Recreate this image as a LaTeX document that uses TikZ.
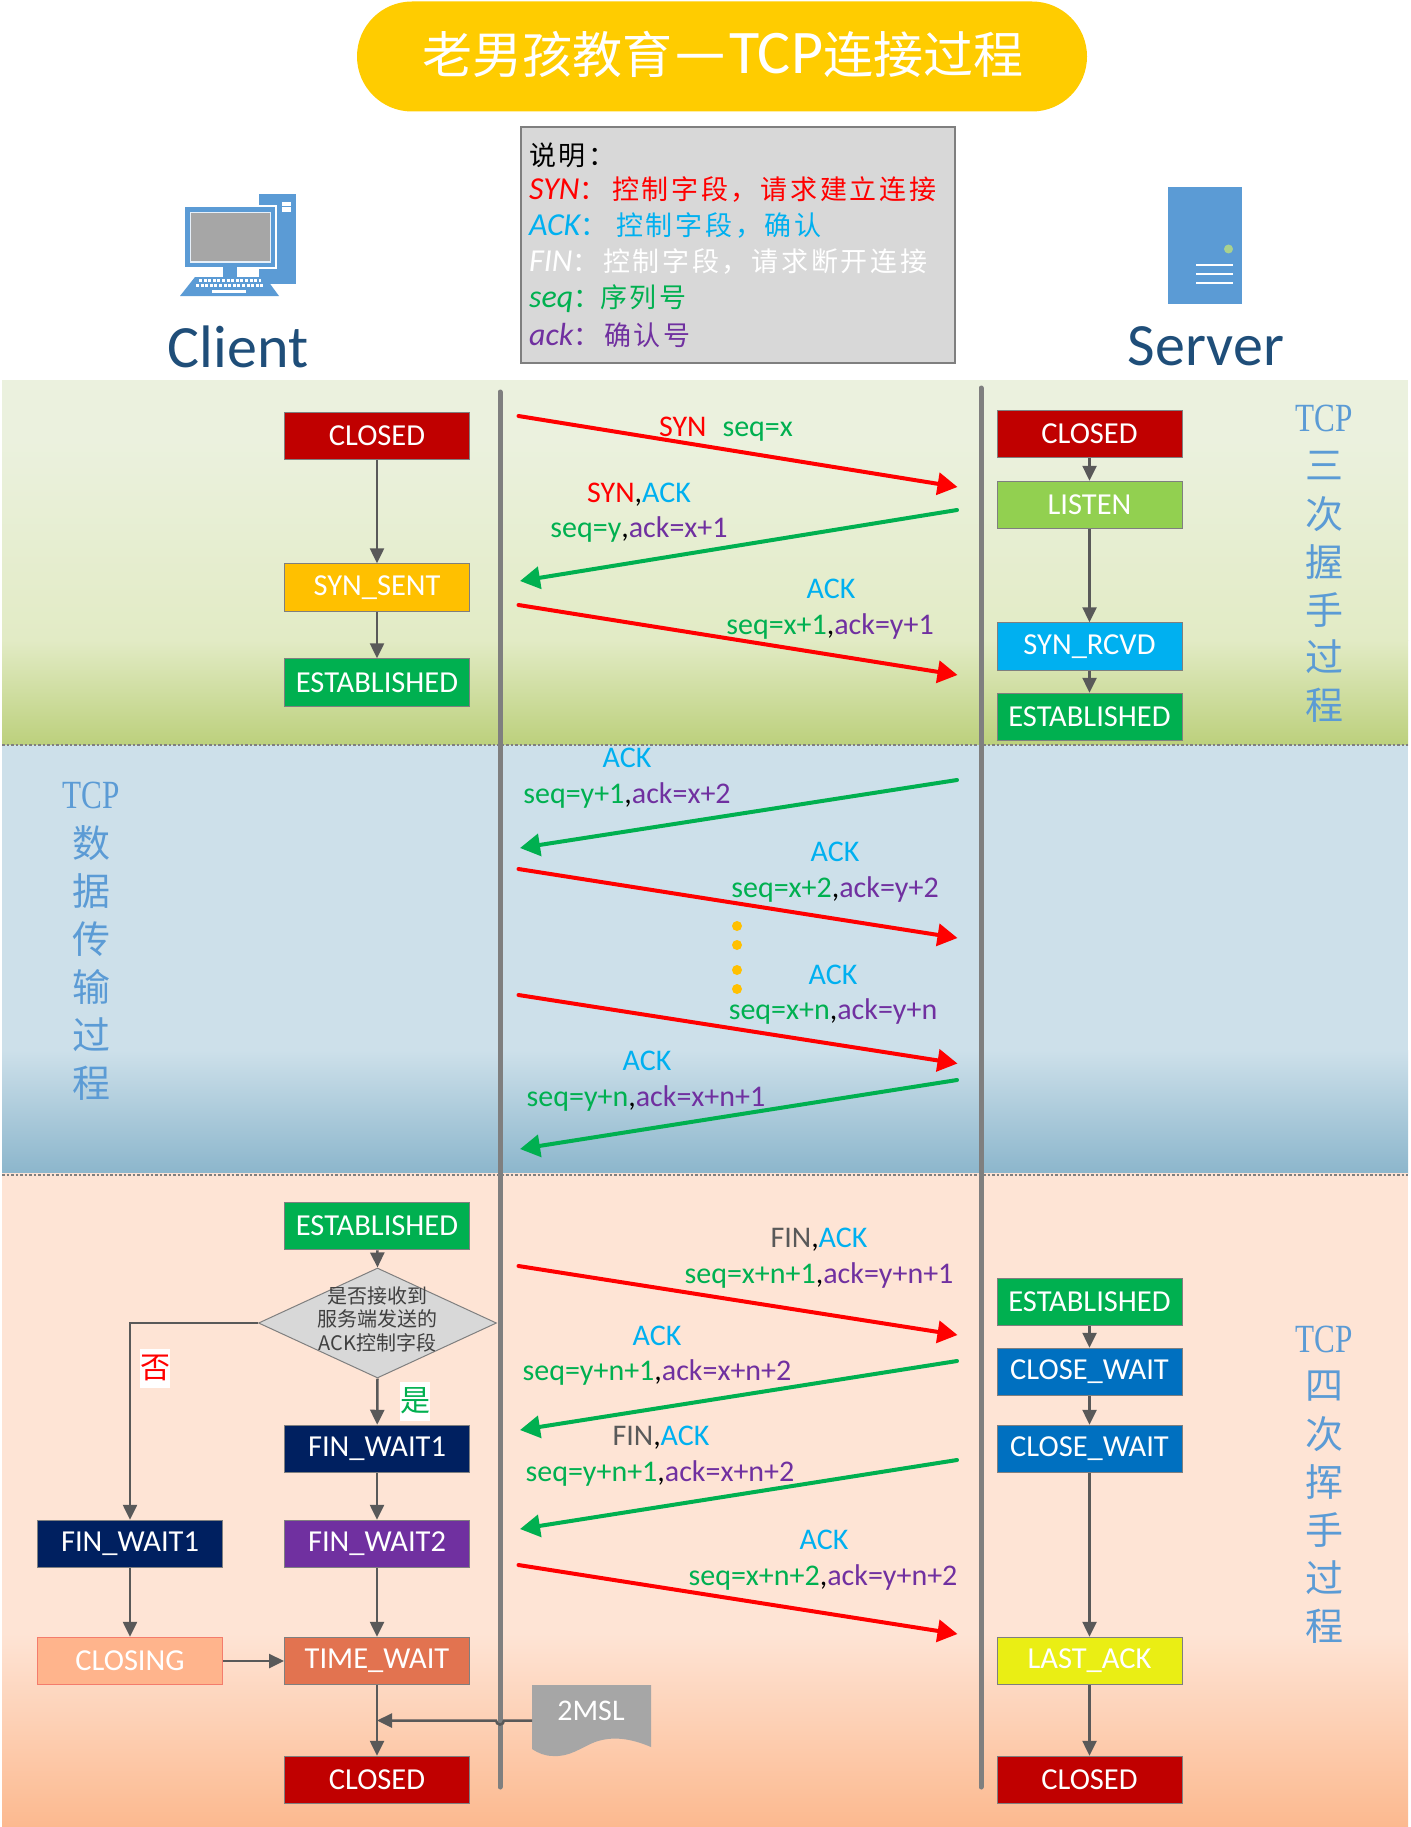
\documentclass[tikz,border=0pt]{standalone}
\usepackage{fontspec}
\usepackage{graphicx}
\usetikzlibrary{arrows.meta,shapes.geometric,calc}
\setmainfont{Carlito}
\newfontfamily\cjk{Noto Sans CJK SC}
\newfontfamily\cjkls[LetterSpace=10]{Noto Sans CJK SC}
\newfontfamily\tms{Liberation Serif}
\newcommand{\fs}[1]{\fontsize{#1}{#1}\selectfont}
\definecolor{cred}{HTML}{FF0000}
\definecolor{cseq}{HTML}{00B050}
\definecolor{cack}{HTML}{7030A0}
\definecolor{cAK}{HTML}{00B0F0}
\definecolor{cfin}{HTML}{595959}
\definecolor{cside}{HTML}{5B9BD5}
\definecolor{cname}{HTML}{1F4E79}
\definecolor{cline}{HTML}{595959}
\definecolor{clife}{HTML}{7F7F7F}
\definecolor{ctitle}{HTML}{FFCC00}
\definecolor{bclosed}{HTML}{C00000}
\definecolor{bsent}{HTML}{FFC000}
\definecolor{best}{HTML}{00B050}
\definecolor{blisten}{HTML}{92D050}
\definecolor{brcvd}{HTML}{00B0F0}
\definecolor{bcw}{HTML}{0070C0}
\definecolor{blast}{HTML}{EAEE14}
\definecolor{bfw1}{HTML}{002060}
\definecolor{bfw2}{HTML}{7030A0}
\definecolor{btw}{HTML}{E27350}
\definecolor{bcl}{HTML}{FFB48C}
\definecolor{bclb}{HTML}{F47C6C}
\definecolor{gra}{HTML}{EBF1DE}
\definecolor{grb}{HTML}{E2EBC5}
\definecolor{grc}{HTML}{BCD07C}
\definecolor{bla}{HTML}{CDE0EA}
\definecolor{blb}{HTML}{8CB6CC}
\definecolor{ora}{HTML}{FEE4D5}
\definecolor{orb}{HTML}{FCB98F}
\definecolor{gfill}{HTML}{D8D8D8}
\definecolor{gdoc}{HTML}{A6A6A6}
\definecolor{gtext}{HTML}{404040}
\definecolor{gled}{HTML}{A9D18E}
\newcommand{\Sq}[1]{\textcolor{cseq}{#1}}
\newcommand{\Ak}[1]{\textcolor{cack}{#1}}
\newcommand{\AK}{\textcolor{cAK}{ACK}}
\newcommand{\SY}{\textcolor{cred}{SYN}}
\newcommand{\FI}{\textcolor{cfin}{FIN}}
\newcommand{\lgname}[2]{\makebox[#1pt][l]{\fs{32}\itshape #2\fs{27}\cjk：}}
\tikzset{
  statebox/.style={draw=clife,line width=1pt,minimum width=185pt,minimum height=47.5pt,inner sep=0pt,text=white,font=\fs{30.5}},
  conn/.style={draw=cline,line width=2.5pt,-{Triangle[length=15pt,width=14pt]}},
  redmsg/.style={draw=red,line width=4pt,line cap=round,-{Triangle[length=20pt,width=22pt]}},
  greenmsg/.style={draw=cseq,line width=4pt,line cap=round,-{Triangle[length=20pt,width=22pt]}},
  lab/.style={inner sep=0pt,font=\fs{30}},
  side/.style={inner sep=0pt,text=cside,font=\fs{38}\cjk},
  legend/.style={inner sep=0pt,anchor=west,font=\fs{27}},
  lifeline/.style={draw=clife,line width=5pt,line cap=round},
  divider/.style={draw=clife,line width=2.5pt,dash pattern=on 2.5pt off 2pt},
}
\begin{document}
\begin{tikzpicture}[x=1pt,y=-1pt]
\useasboundingbox (0,0) rectangle (1410,1827);
\fill[white] (0,0) rectangle (1410,1827);
% panels
\fill[gra] (2,380) rectangle (1408,440);
\shade[top color=gra,bottom color=grb] (2,440) rectangle (1408,640);
\shade[top color=grb,bottom color=grc] (2,640) rectangle (1408,745);
\fill[bla] (2,745) rectangle (1408,1050);
\shade[top color=bla,bottom color=blb] (2,1050) rectangle (1408,1173);
\fill[ora] (2,1173) rectangle (1408,1633);
\shade[top color=ora,bottom color=orb] (2,1633) rectangle (1408,1827);
\draw[divider] (2,745) -- (1408,745);
\draw[divider] (2,1175) -- (1408,1175);
% lifelines
\coordinate (lla) at (500,392); \coordinate (llb) at (500,1787);
\coordinate (lra) at (981,388); \coordinate (lrb) at (981,1787);
\draw[lifeline] (lla) -- (llb);
\draw[lifeline] (lra) -- (lrb);
% title
\node[fill=ctitle,rounded corners=55pt,minimum width=730pt,minimum height=110pt,inner sep=0pt] (title) at (722,56.5) {};
\node[inner sep=0pt,text=white,font=\fs{50}] (titletext) at (723,54) {{\cjk 老男孩教育}{\fs{62}—TCP}{\cjk 连接过程}};
% legend
\node[draw=clife,line width=1.5pt,fill=gfill,minimum width=434pt,minimum height=236pt,inner sep=0pt] (legendbox) at (738,245) {};
\node[legend] (lg0) at (529,155) {\cjkls 说明：};
\node[legend,text=red] (lg1) at (529,190) {\lgname{83}{SYN}{\cjkls 控制字段，请求建立连接}};
\node[legend,text=cAK] (lg2) at (529,226) {\lgname{87}{ACK}{\cjkls 控制字段，确认}};
\node[legend,text=white] (lg3) at (529,262) {\lgname{74}{FIN}{\cjkls 控制字段，请求断开连接}};
\node[legend,text=cseq] (lg4) at (529,299) {\lgname{71}{seq}{\cjkls 序列号}};
\node[legend,text=cack] (lg5) at (529,335) {\lgname{75}{ack}{\cjkls 确认号}};
% client icon
\fill[cside] (259,194) rectangle (296,284);
\fill[white] (281.5,202) rectangle (290.5,206.5);
\fill[white] (281.5,207.5) rectangle (290.5,212);
\fill[white] (183,205) rectangle (277,269);
\fill[cside] (185,207) rectangle (275,267);
\fill[white!85!cside] (190,212) rectangle (270.5,263);
\fill[gdoc] (190.5,213.5) rectangle (270,261.5);
\fill[cside] (223,267) rectangle (237,277);
\fill[cside] (195,277) -- (265,277) -- (279,296) -- (180,296) -- cycle;
\foreach \yy/\xa/\xb in {280.5/199/261,285/196/264}{
  \draw[white,line width=3pt,dash pattern=on 3pt off 1.6pt] (\xa,\yy) -- (\xb,\yy);}
\fill[white] (212,290) rectangle (246,293);
% server icon
\fill[cside] (1168,187) rectangle (1242,304);
\fill[gled] (1228.5,249) circle (4.5);
\foreach \yy in {265,274,283}{\fill[white] (1196,\yy-1.3) rectangle (1233,\yy+1.3);}
% names
\node[inner sep=0pt,text=cname,font=\fs{60}] (client) at (238,346.5) {Client};
\node[inner sep=0pt,text=cname,font=\fs{60}] (server) at (1206,346.5) {Server};
% left states (handshake)
\node[statebox,fill=bclosed] (lc) at (377,436) {CLOSED};
\node[statebox,fill=bsent] (lss) at (377,587.5) {SYN\_SENT};
\node[statebox,fill=best] (le) at (377,682.5) {ESTABLISHED};
\draw[conn] (lc) -- (lss);
\draw[conn] (lss) -- (le);
% right states (handshake)
\node[statebox,fill=bclosed] (rc) at (1089.5,434) {CLOSED};
\node[statebox,fill=blisten] (rl) at (1089.5,505) {LISTEN};
\node[statebox,fill=brcvd] (rs) at (1089.5,646.5) {SYN\_RCVD};
\node[statebox,fill=best] (re) at (1089.5,717) {ESTABLISHED};
\draw[conn] (rc) -- (rl);
\draw[conn] (rl) -- (rs);
\draw[conn] (rs) -- (re);
% lower left
\node[statebox,fill=best] (le2) at (377,1226) {ESTABLISHED};
\node[diamond,draw=clife,line width=1pt,fill=gfill,minimum width=238pt,minimum height=110pt,inner sep=0pt,aspect=2.16] (dec) at (377.5,1323) {};
\node[inner sep=0pt,align=center,text=gtext,font=\fs{20}\cjk] (dectext) at (377.5,1319) {是否接收到\\[3.5pt]服务端发送的\\[3.5pt]ACK控制字段};
\node[statebox,fill=bfw1] (fa) at (377,1449) {FIN\_WAIT1};
\node[statebox,fill=bfw1] (fb) at (130,1544) {FIN\_WAIT1};
\node[statebox,fill=bfw2] (f2) at (377,1544) {FIN\_WAIT2};
\node[statebox,fill=bcl,draw=bclb] (cg) at (130,1661) {CLOSING};
\node[statebox,fill=btw] (tw) at (377,1661) {TIME\_WAIT};
\node[statebox,fill=bclosed] (lc2) at (377,1780) {CLOSED};
\draw[conn] (le2) -- (dec.north);
\draw[conn] (dec.south) -- (fa);
\draw[conn] (fa) -- (f2);
\draw[conn] (f2) -- (tw);
\draw[conn] (dec.west) -| (fb.north);
\draw[conn] (fb) -- (cg);
\draw[conn] (cg) -- (tw);
\draw[conn] (tw) -- (lc2);
\node[fill=white,inner sep=0pt,minimum width=30pt,minimum height=39pt,text=red,font=\fs{30}\cjk] (no) at (155,1368) {否};
\node[fill=white,inner sep=0pt,minimum width=30pt,minimum height=39pt,text=cseq,font=\fs{30}\cjk] (yes) at (415,1401) {是};
% lower right
\node[statebox,fill=best] (re2) at (1089.5,1302) {ESTABLISHED};
\node[statebox,fill=bcw] (cw1) at (1089.5,1372) {CLOSE\_WAIT};
\node[statebox,fill=bcw] (cw2) at (1089.5,1449) {CLOSE\_WAIT};
\node[statebox,fill=blast] (la) at (1089.5,1661) {LAST\_ACK};
\node[statebox,fill=bclosed] (rc2) at (1089.5,1780) {CLOSED};
\draw[conn] (re2) -- (cw1);
\draw[conn] (cw1) -- (cw2);
\draw[conn] (cw2) -- (la);
\draw[conn] (la) -- (rc2);
% 2MSL
\fill[gdoc] (532,1685) -- (651,1685) -- (651,1747)
  .. controls (630,1738) and (612,1736) .. (595,1742)
  .. controls (580,1748) and (570,1757) .. (553,1756)
  .. controls (545,1756) and (538,1753) .. (532,1749) -- cycle;
\node[inner sep=0pt,text=white,font=\fs{30}] (msl) at (591,1711) {2MSL};
\coordinate (mslw) at (532,1720.5);
\coordinate (join) at (377,1720.5);
\draw[conn] (mslw) -- (504,1720.5) arc (0:180:4) -- (join);
% messages
\foreach \nm/\xa/\ya/\xb/\yb/\st in {
 m1/518.5/416/957.5/487/redmsg,
 m2/957/510/520/581/greenmsg,
 m3/518.5/605/957.5/675/redmsg,
 m4/957/780/520/848/greenmsg,
 m5/518.5/869/957.5/938/redmsg,
 m6/518.5/995/957.5/1063.5/redmsg,
 m7/957/1080/520/1149/greenmsg,
 m8/518.5/1266/957.5/1335/redmsg,
 m9/957/1361/520/1430/greenmsg,
 m10/957/1460/520/1529/greenmsg,
 m11/518.5/1565/957.5/1634/redmsg}{
  \coordinate (\nm a) at (\xa,\ya); \coordinate (\nm b) at (\xb,\yb);
  \draw[\st] (\nm a) -- (\nm b);}
% message labels
\node[lab] (t1) at (726,429) {\SY\hspace{16pt}\Sq{seq=x}};
\node[lab] (t2a) at (639,495) {\SY,\AK};
\node[lab] (t2b) at (639,529) {\Sq{seq=y},\Ak{ack=x+1}};
\node[lab] (t3a) at (831,589) {\AK};
\node[lab] (t3b) at (830,626) {\Sq{seq=x+1},\Ak{ack=y+1}};
\node[lab] (t4a) at (627,758) {\AK};
\node[lab] (t4b) at (627,795) {\Sq{seq=y+1},\Ak{ack=x+2}};
\node[lab] (t5a) at (835,852) {\AK};
\node[lab] (t5b) at (835,889) {\Sq{seq=x+2},\Ak{ack=y+2}};
\node[lab] (t6a) at (833,975) {\AK};
\node[lab] (t6b) at (833,1011) {\Sq{seq=x+n},\Ak{ack=y+n}};
\node[lab] (t7a) at (647,1061) {\AK};
\node[lab] (t7b) at (646,1098) {\Sq{seq=y+n},\Ak{ack=x+n+1}};
\node[lab] (t8a) at (819,1240) {\FI,\AK};
\node[lab] (t8b) at (819,1275) {\Sq{seq=x+n+1},\Ak{ack=y+n+1}};
\node[lab] (t9a) at (657,1336) {\AK};
\node[lab] (t9b) at (657,1372) {\Sq{seq=y+n+1},\Ak{ack=x+n+2}};
\node[lab] (t10a) at (661,1438) {\FI,\AK};
\node[lab] (t10b) at (660,1473) {\Sq{seq=y+n+1},\Ak{ack=x+n+2}};
\node[lab] (t11a) at (824,1540) {\AK};
\node[lab] (t11b) at (823,1577) {\Sq{seq=x+n+2},\Ak{ack=y+n+2}};
% dots
\foreach \yy in {926,945,970,989}{\fill[bsent] (737,\yy) circle (5);}
% side labels
\newcommand{\tcpword}{{\tms\fs{40}\scalebox{0.78}[1]{TCP}}}
\node[side] (s1) at (1324,418) {\tcpword};
\node[side] (s1a) at (1324,466) {三};
\node[side] (s1b) at (1324,514) {次};
\node[side] (s1c) at (1324,562) {握};
\node[side] (s1d) at (1324,610) {手};
\node[side] (s1e) at (1324,657) {过};
\node[side] (s1f) at (1324,705) {程};
\node[side] (s2) at (91,795) {\tcpword};
\node[side] (s2a) at (91,843) {数};
\node[side] (s2b) at (91,891) {据};
\node[side] (s2c) at (91,939) {传};
\node[side] (s2d) at (91,987) {输};
\node[side] (s2e) at (91,1035) {过};
\node[side] (s2f) at (91,1083) {程};
\node[side] (s3) at (1324,1339) {\tcpword};
\node[side] (s3a) at (1324,1386) {四};
\node[side] (s3b) at (1324,1434) {次};
\node[side] (s3c) at (1324,1482) {挥};
\node[side] (s3d) at (1324,1530) {手};
\node[side] (s3e) at (1324,1578) {过};
\node[side] (s3f) at (1324,1626) {程};
\end{tikzpicture}
\end{document}
